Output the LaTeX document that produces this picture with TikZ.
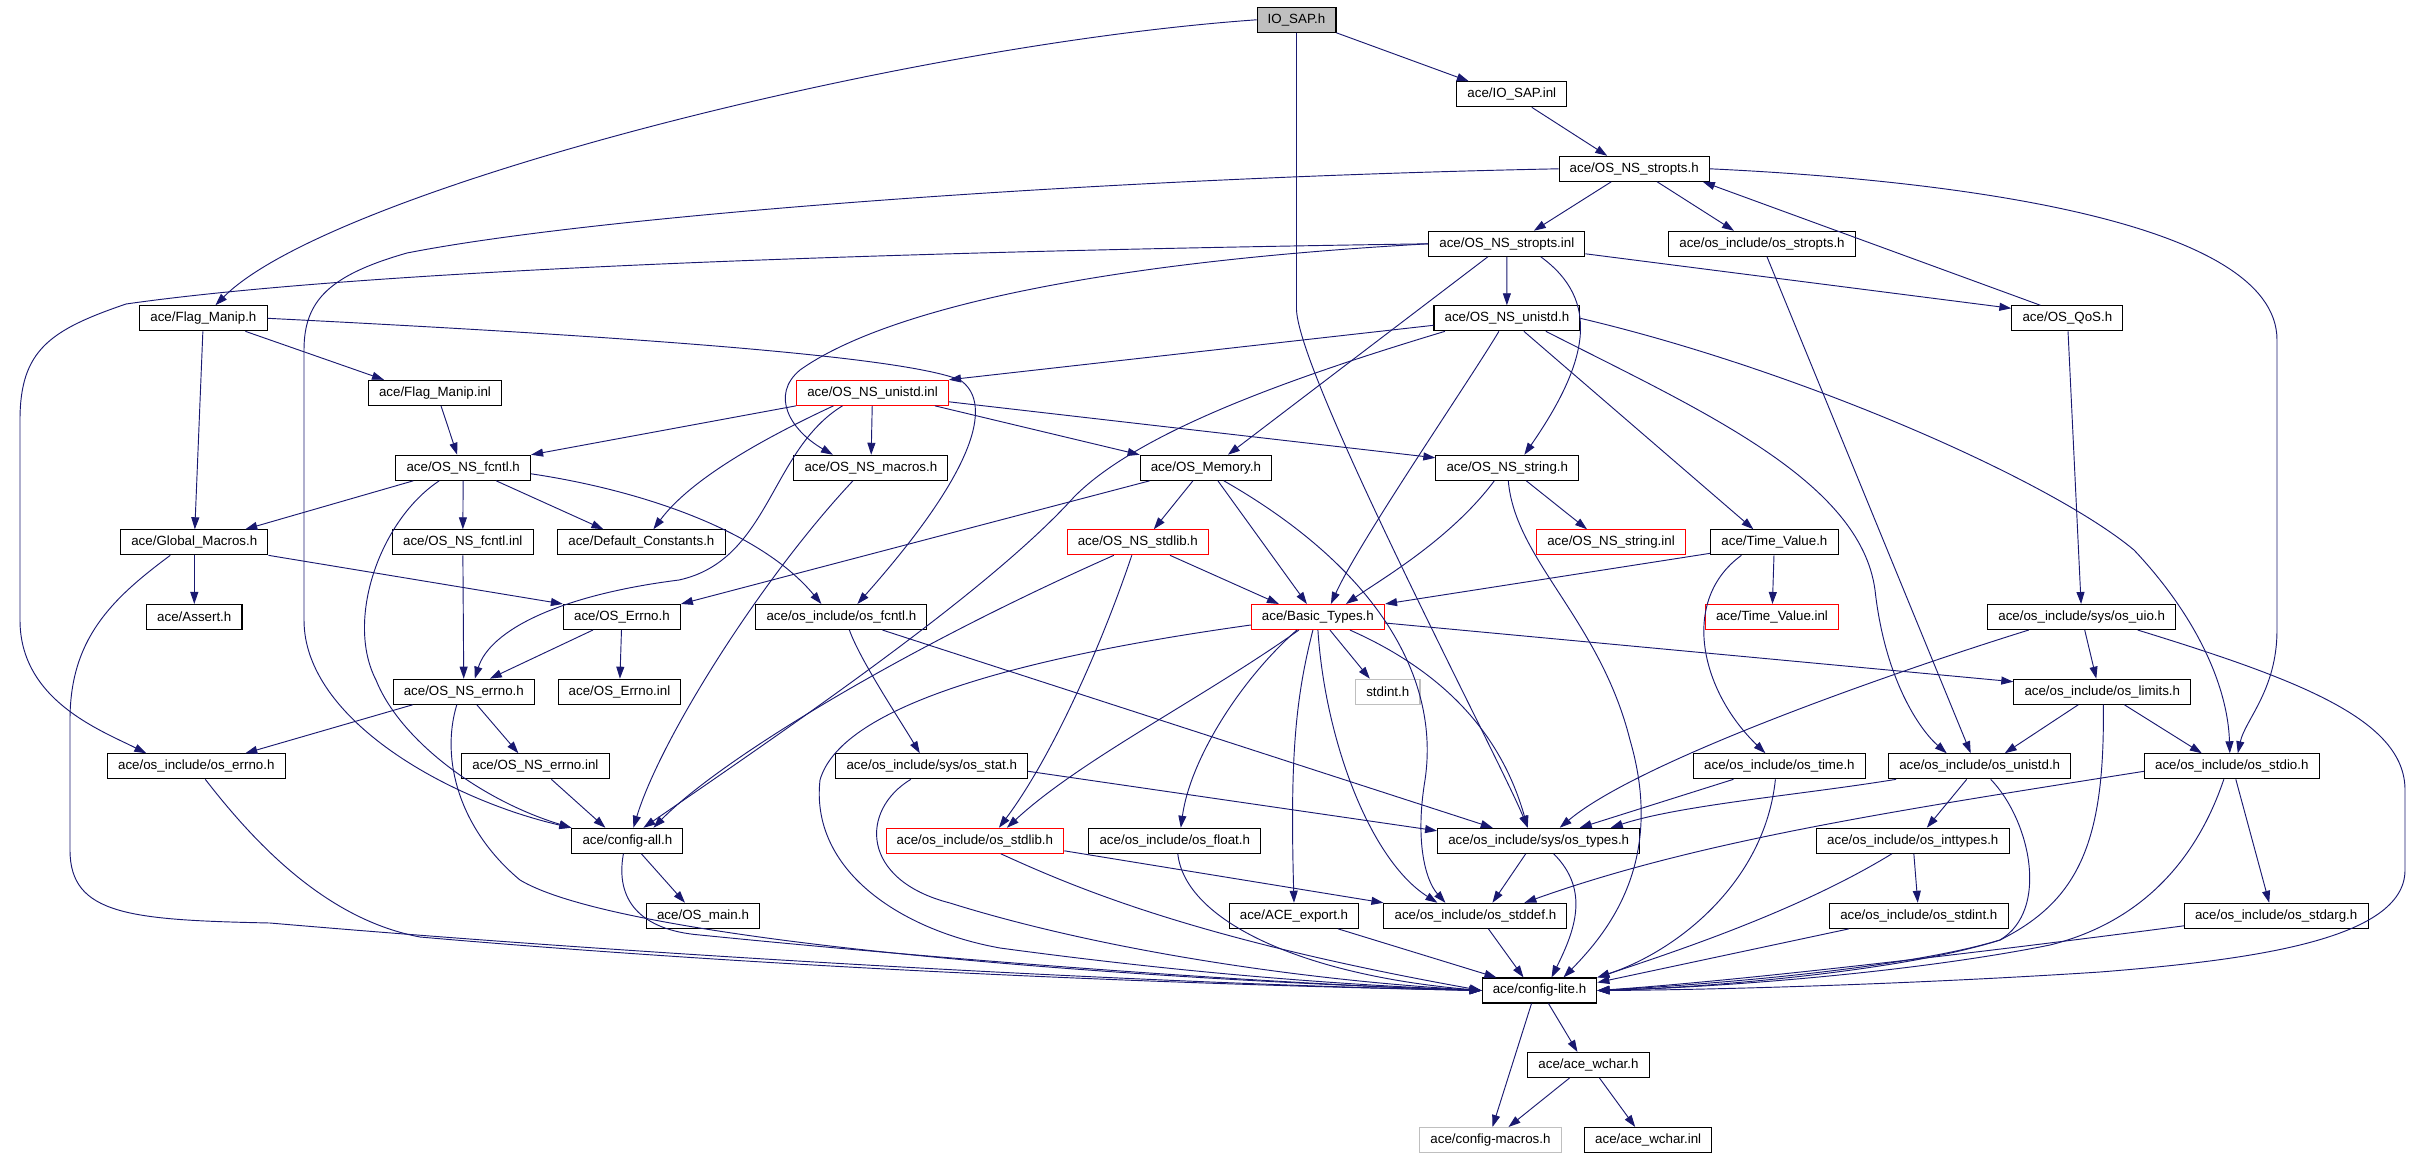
\documentclass[tikz,border=0pt]{standalone}
\usepackage{fontspec}
\setmainfont{Liberation Sans}
\usetikzlibrary{arrows.meta,calc}
\definecolor{edgeblue}{RGB}{25,25,112}
\definecolor{filegrey}{RGB}{191,191,191}

\begin{document}
\begin{tikzpicture}[x=0.75pt,y=-0.75pt]

\tikzset{filebox/.style={draw=black,line width=0.8pt,inner xsep=8pt,inner ysep=0pt,minimum height=18.75pt,font=\fontsize{10pt}{12pt}\selectfont},
redbox/.style={filebox,draw=red},
greybox/.style={filebox,draw=filegrey},
topbox/.style={filebox,fill=filegrey},
incl/.style={draw=edgeblue,line width=0.7pt,-{Triangle[length=9pt,width=6pt]}}}

\useasboundingbox (0,0) rectangle (2424,1157);

% Files, row by row
\node[topbox] (iosap) at (1296.5,19.8) {IO\_SAP.h};
\node[filebox] (iosapinl) at (1511.8,94.3) {ace/IO\_SAP.inl};
\node[filebox] (strh) at (1634.2,168.8) {ace/OS\_NS\_stropts.h};
\node[filebox] (strinl) at (1506.8,243.8) {ace/OS\_NS\_stropts.inl};
\node[filebox] (osstr) at (1762,243.8) {ace/os\_include/os\_stropts.h};
\node[filebox] (unih) at (1506.9,318.3) {ace/OS\_NS\_unistd.h};
\node[filebox] (qos) at (2067.4,318.3) {ace/OS\_QoS.h};
\node[filebox] (flagh) at (203.4,318.3) {ace/Flag\_Manip.h};
\node[filebox] (flaginl) at (435,392.8) {ace/Flag\_Manip.inl};
\node[redbox] (uniinl) at (872.5,392.8) {ace/OS\_NS\_unistd.inl};
\node[filebox] (fcntlh) at (463.2,467.8) {ace/OS\_NS\_fcntl.h};
\node[filebox] (macros) at (870.9,467.8) {ace/OS\_NS\_macros.h};
\node[filebox] (memory) at (1205.9,467.8) {ace/OS\_Memory.h};
\node[filebox] (stringh) at (1507.3,467.8) {ace/OS\_NS\_string.h};
\node[filebox] (globm) at (194.3,542.3) {ace/Global\_Macros.h};
\node[filebox] (fcntlinl) at (462.8,542.3) {ace/OS\_NS\_fcntl.inl};
\node[filebox] (defconst) at (641.4,542.3) {ace/Default\_Constants.h};
\node[redbox] (stdlibh) at (1137.8,542.3) {ace/OS\_NS\_stdlib.h};
\node[redbox] (stringinl) at (1611,542.3) {ace/OS\_NS\_string.inl};
\node[filebox] (tvh) at (1774.4,542.3) {ace/Time\_Value.h};
\node[filebox] (assert) at (194.3,617) {ace/Assert.h};
\node[filebox] (errnoh) at (621.9,617) {ace/OS\_Errno.h};
\node[filebox] (osfcntl) at (841.4,617) {ace/os\_include/os\_fcntl.h};
\node[redbox] (basic) at (1317.9,617) {ace/Basic\_Types.h};
\node[redbox] (tvinl) at (1772,617) {ace/Time\_Value.inl};
\node[filebox] (osuio) at (2081.7,617) {ace/os\_include/sys/os\_uio.h};
\node[filebox] (nserrh) at (463.8,691.7) {ace/OS\_NS\_errno.h};
\node[filebox] (errnoinl) at (619.5,691.7) {ace/OS\_Errno.inl};
\node[greybox] (stdint) at (1387.8,691.7) {stdint.h};
\node[filebox] (oslimits) at (2102.3,691.7) {ace/os\_include/os\_limits.h};
\node[filebox] (oserrno) at (196.3,766.3) {ace/os\_include/os\_errno.h};
\node[filebox] (nserrinl) at (535.4,766.3) {ace/OS\_NS\_errno.inl};
\node[filebox] (osstat) at (931.8,766.3) {ace/os\_include/sys/os\_stat.h};
\node[filebox] (ostime) at (1779.4,766.3) {ace/os\_include/os\_time.h};
\node[filebox] (osunistd) at (1979.7,766.3) {ace/os\_include/os\_unistd.h};
\node[filebox] (osstdio) at (2231.8,766.3) {ace/os\_include/os\_stdio.h};
\node[filebox] (cfgall) at (627.4,840.8) {ace/config-all.h};
\node[redbox] (osstdlib) at (974.9,840.8) {ace/os\_include/os\_stdlib.h};
\node[filebox] (osfloat) at (1174.8,840.8) {ace/os\_include/os\_float.h};
\node[filebox] (ostypes) at (1538.7,840.8) {ace/os\_include/sys/os\_types.h};
\node[filebox] (osinttypes) at (1912.8,840.8) {ace/os\_include/os\_inttypes.h};
\node[filebox] (osmain) at (703,915.8) {ace/OS\_main.h};
\node[filebox] (export) at (1294,915.8) {ace/ACE\_export.h};
\node[filebox] (osstddef) at (1475.4,915.8) {ace/os\_include/os\_stddef.h};
\node[filebox] (osstdint) at (1918.8,915.8) {ace/os\_include/os\_stdint.h};
\node[filebox] (osstdarg) at (2276.2,915.8) {ace/os\_include/os\_stdarg.h};
\node[filebox] (cfglite) at (1539.5,990.5) {ace/config-lite.h};
\node[filebox] (wchar) at (1588.5,1065) {ace/ace\_wchar.h};
\node[greybox] (cfgmacros) at (1490.5,1140) {ace/config-macros.h};
\node[filebox] (wcharinl) at (1648.2,1140) {ace/ace\_wchar.inl};

% Straight includes
\foreach \a/\b in {strinl/unih, qos/osuio, flagh/globm, uniinl/macros, fcntlh/fcntlinl, globm/assert, fcntlinl/nserrh, errnoh/errnoinl, tvh/tvinl, osinttypes/osstdint}
  \draw[incl] (\a) -- (\b);

% IO_SAP.h
\draw[incl] (iosap.west) .. controls (900,45) and (330,190) .. ($(flagh.north)+(12,0)$);
\draw[incl] (iosap.south east) -- ($(iosapinl.north)+(-43,0)$);
\draw[incl] (iosap.south) -- (1296.5,310) .. controls (1300,380) and (1500,760) .. ($(ostypes.north)+(-11,0)$);
\draw[incl] ($(iosapinl.south)+(20,0)$) -- ($(strh.north)+(-27,0)$);

% OS_NS_stropts
\draw[incl] ($(strh.south)+(-23,0)$) -- ($(strinl.north)+(27,0)$);
\draw[incl] ($(strh.south)+(23,0)$) -- ($(osstr.north)+(-28,0)$);
\draw[incl] ($(qos.north)+(-27,0)$) -- ($(strh.south east)+(-7,0)$);
\draw[incl] (strh.west) .. controls (1100,178) and (600,215) .. (407,253) .. controls (330,275) and (304,300) .. (304,350) -- (304,620) .. controls (304,720) and (450,800) .. (cfgall.north west);
\draw[incl] (strh.east) .. controls (1950,180) and (2277,220) .. (2277,340) -- (2277,630) .. controls (2277,690) and (2245,720) .. ($(osstdio.north)+(6,0)$);
\draw[incl] ($(strinl.east)+(0,10)$) -- ($(qos.west)+(0,-10)$);
\draw[incl] (strinl.west) .. controls (1000,250) and (400,265) .. (126,304) .. controls (50,330) and (20,350) .. (20,420) -- (20,620) .. controls (20,700) and (100,730) .. ($(oserrno.north)+(-50,0)$);
\draw[incl] (strinl.west) .. controls (1050,265) and (870,320) .. (800,370) .. controls (770,395) and (790,430) .. ($(macros.north)+(-38,0)$);
\draw[incl] ($(strinl.south)+(-19,0)$) -- ($(memory.north)+(22,0)$);
\draw[incl] ($(strinl.south)+(34,0)$) .. controls (1600,300) and (1590,360) .. ($(stringh.north)+(17,0)$);
\draw[incl] ($(osstr.south)+(5,0)$) -- ($(osunistd.north)+(-9,0)$);

% OS_NS_unistd.h
\draw[incl] ($(unih.west)+(0,7)$) -- (uniinl.north east);
\draw[incl] ($(unih.south)+(-62,0)$) .. controls (1300,375) and (1140,430) .. (1074,497) .. controls (990,590) and (800,720) .. ($(cfgall.north)+(16,0)$);
\draw[incl] ($(unih.south)+(-8,0)$) .. controls (1470,380) and (1360,540) .. ($(basic.north)+(13,0)$);
\draw[incl] ($(unih.south)+(17,0)$) -- ($(tvh.north)+(-21,0)$);
\draw[incl] ($(unih.south)+(39,0)$) .. controls (1700,410) and (1860,480) .. (1875,590) .. controls (1885,680) and (1920,730) .. ($(osunistd.north)+(-33,0)$);
\draw[incl] (unih.east) .. controls (1800,370) and (2050,480) .. (2134,550) .. controls (2200,620) and (2228,690) .. ($(osstdio.north)+(-2,0)$);

% Flag_Manip
\draw[incl] ($(flagh.south)+(42,0)$) -- ($(flaginl.north)+(-51,0)$);
\draw[incl] (flagh.east) .. controls (600,335) and (900,355) .. (960,380) .. controls (990,400) and (985,460) .. ($(osfcntl.north)+(16,0)$);
\draw[incl] ($(flaginl.south)+(6,0)$) -- ($(fcntlh.north)+(-6,0)$);

% OS_NS_unistd.inl
\draw[incl] (uniinl.south west) -- (fcntlh.north east);
\draw[incl] ($(uniinl.south)+(-39,0)$) .. controls (760,440) and (690,480) .. ($(defconst.north)+(12,0)$);
\draw[incl] ($(uniinl.south)+(-30,0)$) .. controls (770,450) and (770,560) .. (679,580) .. controls (560,595) and (490,630) .. ($(nserrh.north)+(11,0)$);
\draw[incl] ($(uniinl.south east)+(-14,0)$) -- (memory.north west);
\draw[incl] ($(uniinl.east)+(0,9)$) -- ($(stringh.west)+(0,-10)$);

% OS_NS_fcntl.h
\draw[incl] ($(fcntlh.south)+(-50,0)$) -- ($(globm.north)+(51,0)$);
\draw[incl] ($(fcntlh.south)+(-24,0)$) .. controls (380,520) and (345,620) .. (376,680) .. controls (400,740) and (480,800) .. (cfgall.north west);
\draw[incl] ($(fcntlh.south)+(33,0)$) -- ($(defconst.north)+(-38,0)$);
\draw[incl] ($(fcntlh.east)+(0,6)$) .. controls (640,490) and (760,530) .. ($(osfcntl.north)+(-20,0)$);

% Global_Macros, errno
\draw[incl] (globm.south east) -- (errnoh.north west);
\draw[incl] ($(globm.south)+(-24,0)$) .. controls (110,600) and (70,640) .. (70,720) -- (70,850) .. controls (70,915) and (130,920) .. (270,923) .. controls (700,960) and (1200,985) .. (cfglite.west);
\draw[incl] ($(errnoh.south)+(-29,0)$) -- ($(nserrh.north)+(26,0)$);
\draw[incl] ($(nserrh.south)+(-51,0)$) -- ($(oserrno.north)+(49,0)$);
\draw[incl] ($(nserrh.south)+(13,0)$) -- ($(nserrinl.north)+(-17,0)$);
\draw[incl] ($(nserrh.south)+(-7,0)$) .. controls (440,760) and (460,830) .. (520,880) .. controls (620,940) and (1100,978) .. (cfglite.west);
\draw[incl] ($(oserrno.south)+(9,0)$) .. controls (260,850) and (330,920) .. (420,937) .. controls (800,970) and (1200,985) .. (cfglite.west);
\draw[incl] ($(nserrinl.south)+(16,0)$) -- ($(cfgall.north)+(-22,0)$);

% OS_NS_macros, OS_Memory, OS_NS_stdlib
\draw[incl] ($(macros.south)+(-18,0)$) .. controls (760,580) and (660,740) .. ($(cfgall.north)+(6,0)$);
\draw[incl] ($(memory.south west)+(10,0)$) -- (errnoh.north east);
\draw[incl] ($(memory.south)+(-13,0)$) -- ($(stdlibh.north)+(16,0)$);
\draw[incl] ($(memory.south)+(12,0)$) -- ($(basic.north)+(-11,0)$);
\draw[incl] ($(memory.south)+(18,0)$) .. controls (1380,570) and (1440,680) .. (1425,780) .. controls (1415,840) and (1425,880) .. ($(osstddef.north)+(-30,0)$);
\draw[incl] ($(stdlibh.south)+(-24,0)$) .. controls (900,650) and (720,760) .. ($(cfgall.north)+(26,0)$);
\draw[incl] ($(stdlibh.south)+(-6,0)$) .. controls (1100,650) and (1050,760) .. ($(osstdlib.north)+(24,0)$);
\draw[incl] ($(stdlibh.south east)+(-39,0)$) -- ($(basic.north)+(-39,0)$);

% os_fcntl.h, os_stat.h
\draw[incl] ($(osfcntl.south)+(8,0)$) .. controls (860,660) and (900,720) .. ($(osstat.north)+(-12,0)$);
\draw[incl] ($(osfcntl.south)+(41,0)$) -- ($(ostypes.north)+(-46,0)$);
\draw[incl] ($(osstat.east)+(0,5)$) -- ($(ostypes.west)+(0,-10)$);
\draw[incl] ($(osstat.south)+(-21,0)$) .. controls (860,810) and (860,880) .. (950,903) .. controls (1100,950) and (1300,980) .. (cfglite.west);

% Basic_Types.h
\draw[incl] ($(basic.west)+(0,8)$) .. controls (1000,660) and (840,710) .. (820,780) .. controls (810,870) and (900,930) .. (1000,948) .. controls (1200,975) and (1350,985) .. (cfglite.west);
\draw[incl] ($(basic.south)+(-19,0)$) .. controls (1200,700) and (1080,760) .. ($(osstdlib.north)+(32,0)$);
\draw[incl] ($(basic.south)+(-21,0)$) .. controls (1240,680) and (1190,760) .. ($(osfloat.north)+(6,0)$);
\draw[incl] ($(basic.south)+(-5,0)$) .. controls (1295,700) and (1290,760) .. (export.north);
\draw[incl] (basic.south) .. controls (1325,740) and (1370,860) .. ($(osstddef.north)+(-38,0)$);
\draw[incl] ($(basic.south)+(12,0)$) -- ($(stdint.north)+(-18,0)$);
\draw[incl] ($(basic.south)+(32,0)$) .. controls (1440,670) and (1500,730) .. ($(ostypes.north)+(-11,0)$);
\draw[incl] ($(basic.east)+(0,6)$) -- ($(oslimits.west)+(0,-10)$);

% OS_NS_string.h, Time_Value.h
\draw[incl] ($(stringh.south)+(19,0)$) -- ($(stringinl.north)+(-24,0)$);
\draw[incl] ($(stringh.south)+(-13,0)$) .. controls (1450,540) and (1380,580) .. ($(basic.north)+(28,0)$);
\draw[incl] ($(stringh.south)+(1,0)$) .. controls (1515,560) and (1600,620) .. (1630,740) .. controls (1665,860) and (1610,930) .. ($(cfglite.north)+(24,0)$);
\draw[incl] ($(tvh.west)+(0,11)$) -- (basic.north east);
\draw[incl] ($(tvh.south)+(-33,0)$) .. controls (1680,600) and (1700,690) .. ($(ostime.north)+(-14,0)$);

% os_time.h, os_uio.h, os_limits.h
\draw[incl] ($(ostime.south)+(-46,0)$) -- ($(ostypes.north)+(41,0)$);
\draw[incl] ($(ostime.south)+(-4,0)$) .. controls (1765,880) and (1680,950) .. (cfglite.north east);
\draw[incl] ($(osuio.south)+(-53,0)$) .. controls (1900,670) and (1640,760) .. ($(ostypes.north)+(21,0)$);
\draw[incl] ($(osuio.south)+(3,0)$) -- ($(oslimits.north)+(-6,0)$);
\draw[incl] ($(osuio.south)+(56,0)$) .. controls (2300,680) and (2405,720) .. (2405,790) -- (2405,870) .. controls (2405,940) and (2250,960) .. (2100,972) .. controls (1900,985) and (1700,990) .. (cfglite.east);
\draw[incl] ($(oslimits.south)+(-24,0)$) -- ($(osunistd.north)+(25,0)$);
\draw[incl] ($(oslimits.south)+(22,0)$) -- ($(osstdio.north)+(-30,0)$);
\draw[incl] ($(oslimits.south)+(1,0)$) .. controls (2105,840) and (2080,900) .. (2000,940) .. controls (1900,970) and (1700,985) .. (cfglite.east);

% os_unistd.h, os_stdio.h
\draw[incl] ($(osunistd.south west)+(8,0)$) .. controls (1800,795) and (1680,805) .. ($(ostypes.north)+(72,0)$);
\draw[incl] ($(osunistd.south)+(-13,0)$) -- ($(osinttypes.north)+(14,0)$);
\draw[incl] ($(osunistd.south)+(11,0)$) .. controls (2030,820) and (2050,910) .. (2000,940) .. controls (1900,972) and (1700,988) .. (cfglite.east);
\draw[incl] ($(osstdio.west)+(0,5)$) .. controls (1900,810) and (1700,840) .. ($(osstddef.north)+(49,0)$);
\draw[incl] ($(osstdio.south)+(-8,0)$) .. controls (2200,850) and (2150,920) .. (2050,945) .. controls (1900,975) and (1700,988) .. (cfglite.east);
\draw[incl] ($(osstdio.south)+(4,0)$) -- ($(osstdarg.north)+(-7,0)$);

% os_inttypes.h, os_stdint.h, os_stdarg.h
\draw[incl] ($(osinttypes.south)+(-21,0)$) .. controls (1800,910) and (1680,950) .. (cfglite.north east);
\draw[incl] ($(osstdint.south west)+(20,0)$) -- ($(cfglite.east)+(0,-8)$);
\draw[incl] ($(osstdarg.west)+(0,10)$) .. controls (2000,950) and (1750,980) .. (cfglite.east);

% config-all.h, os_stdlib.h, os_float.h
\draw[incl] ($(cfgall.south)+(14,0)$) -- ($(osmain.north)+(-18,0)$);
\draw[incl] ($(cfgall.south)+(-4,0)$) .. controls (615,900) and (640,930) .. (700,935) .. controls (1000,965) and (1300,985) .. (cfglite.west);
\draw[incl] ($(osstdlib.east)+(0,10)$) -- (osstddef.north west);
\draw[incl] ($(osstdlib.south)+(26,0)$) .. controls (1080,890) and (1200,940) .. (cfglite.west);
\draw[incl] ($(osfloat.south)+(3,0)$) .. controls (1185,920) and (1300,975) .. (cfglite.west);

% sys/os_types.h and below
\draw[incl] ($(ostypes.south)+(-13,0)$) -- ($(osstddef.north)+(17,0)$);
\draw[incl] ($(ostypes.south)+(15,0)$) .. controls (1590,890) and (1575,930) .. ($(cfglite.north)+(12,0)$);
\draw[incl] ($(export.south)+(44,0)$) -- ($(cfglite.north)+(-43,0)$);
\draw[incl] ($(osstddef.south)+(13,0)$) -- ($(cfglite.north)+(-16,0)$);
\draw[incl] ($(cfglite.south)+(-8,0)$) -- ($(cfgmacros.north)+(2,0)$);
\draw[incl] ($(cfglite.south)+(9,0)$) -- ($(wchar.north)+(-11,0)$);
\draw[incl] ($(wchar.south)+(-19,0)$) -- ($(cfgmacros.north)+(18,0)$);
\draw[incl] ($(wchar.south)+(11,0)$) -- ($(wcharinl.north)+(-13,0)$);

\end{tikzpicture}
\end{document}
